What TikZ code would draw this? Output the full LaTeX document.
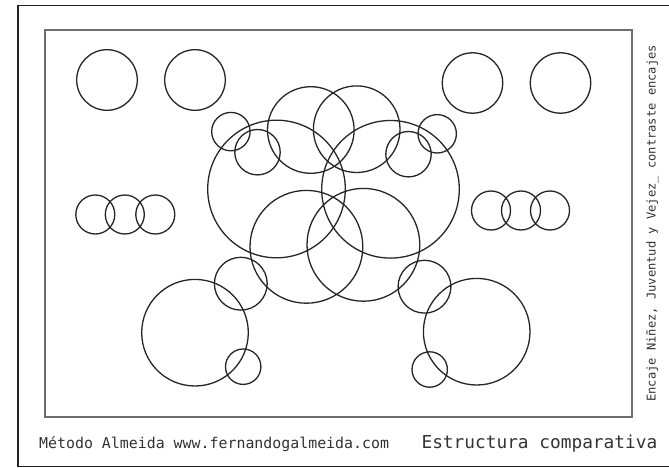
\documentclass[tikz,border=0pt]{standalone}
\usepackage{fontspec}
\newfontfamily\monofont{DejaVu Sans Mono}
\definecolor{inkc}{HTML}{262626}
\definecolor{framec}{HTML}{222222}
\definecolor{innerc}{HTML}{6E6E6E}
\definecolor{textc}{HTML}{333333}
\tikzset{
  ring/.style={draw=inkc, line width=1.3pt},
  outerframe/.style={draw=framec, line width=1.5pt},
  innerframe/.style={draw=innerc, line width=1.1pt},
  foot/.style={text=textc, inner sep=0pt, font=\monofont},
}
\begin{document}
\begin{tikzpicture}[x=1pt,y=-1pt]
\useasboundingbox (0,0) rectangle (669,468);
\fill[white] (0,0) rectangle (669,468);
% frames
\draw[outerframe] (675,5.5) -- (18,5.5) -- (18,466.5) -- (675,466.5);
\draw[innerframe] (45,30) rectangle (632,417);
% top corner circles
\draw[ring] (107,80) circle (30.3);
\draw[ring] (195,80) circle (30.3);
\draw[ring] (472.5,83) circle (30.2);
\draw[ring] (560.5,83) circle (30.2);
% side triples
\draw[ring] (95.3,214.5) circle (19.5);
\draw[ring] (124.8,214.5) circle (19.5);
\draw[ring] (155.3,214.5) circle (19.5);
\draw[ring] (491,210.5) circle (19.5);
\draw[ring] (521,210.5) circle (19.5);
\draw[ring] (550,210.5) circle (19.5);
% central big circles
\draw[ring] (276.5,189) circle (68.8);
\draw[ring] (390.5,189.3) circle (68.8);
% top middle
\draw[ring] (310.8,130) circle (43.3);
\draw[ring] (356.7,129.2) circle (43.3);
% bottom middle
\draw[ring] (306.4,246.8) circle (56.4);
\draw[ring] (363.4,244.8) circle (56.4);
% small upper circles
\draw[ring] (230.9,131.6) circle (19.2);
\draw[ring] (257.5,152.2) circle (22.7);
\draw[ring] (408.5,154.2) circle (22.7);
\draw[ring] (437.2,133.8) circle (19.2);
% lower medium circles
\draw[ring] (240.8,283.7) circle (26.4);
\draw[ring] (424.5,286.7) circle (26.4);
% big lower circles
\draw[ring] (195,332.7) circle (53.3);
\draw[ring] (476.7,331.7) circle (53.3);
% small bottom circles
\draw[ring] (243.2,366.7) circle (17.7);
\draw[ring] (429.7,369.5) circle (17.7);
% texts
\node[foot, font=\monofont\fontsize{14.9}{16}\selectfont, anchor=base west] (t1) at (39,448) {Método Almeida www.fernandogalmeida.com};
\node[foot, font=\monofont\fontsize{17.8}{19}\selectfont, anchor=base east] (t2) at (657.5,448) {Estructura comparativa};
\node[foot, font=\monofont\fontsize{12.1}{13}\selectfont, rotate=90, anchor=base west] (t3) at (655.5,402) {Encaje Niñez, Juventud y Vejez\_ contraste encajes};
\end{tikzpicture}
\end{document}
